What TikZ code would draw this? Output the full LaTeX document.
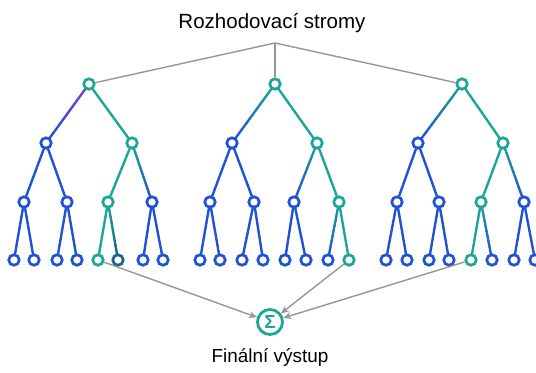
\documentclass[tikz,border=0pt]{standalone}
\usepackage{fontspec}
\setmainfont{Liberation Sans}
\usetikzlibrary{calc,arrows.meta,backgrounds}

\definecolor{nodeblue}{RGB}{32,82,212}
\definecolor{nodeteal}{RGB}{28,166,152}
\definecolor{edgepurple}{RGB}{112,72,200}
\definecolor{deepteal}{RGB}{26,98,140}
\definecolor{linkgray}{RGB}{150,150,150}

\tikzset{
  treenode/.style={circle, draw=#1, line width=2.7bp, fill=white,
    minimum size=10.5bp, inner sep=0pt},
  bnode/.style={treenode=nodeblue},
  tnode/.style={treenode=nodeteal},
  dnode/.style={treenode=deepteal},
  branch/.style={line width=2.4bp, line cap=round},
  link/.style={draw=linkgray, line width=1.4bp},
  toresult/.style={link, -{Stealth[length=8bp,width=7bp]}},
}

% branch whose colour fades from #3 (at #1) to #4 (at #2)
\newcommand{\fadebranch}[4]{%
  \foreach \k in {0,...,11}{%
    \pgfmathtruncatemacro{\pmix}{100-\k*100/11}%
    \draw[branch, color=#3!\pmix!#4]
      ($(#1)!\k/12!(#2)$) -- ($(#1)!\k/12+1/12!(#2)$);
  }}
\newcommand{\solidbranch}[3]{\draw[branch, color=#3] (#1) -- (#2);}

\begin{document}
\begin{tikzpicture}[x=1bp, y=-1bp]
\useasboundingbox (0,0) rectangle (536,372);

% ---------- titles ----------
\node (title) at (272,23) {\fontsize{20.6}{24}\selectfont Rozhodovací stromy};
\coordinate (hub) at (275,43);

% ---------- tree 1 ----------
\node[tnode] (1-r)  at (89,84) {};
\node[bnode] (1-a)  at (46,143) {};
\node[tnode] (1-b)  at (132,143) {};
\node[bnode] (1-aa) at (24,202) {};
\node[bnode] (1-ab) at (67,202) {};
\node[tnode] (1-ba) at (108,202) {};
\node[bnode] (1-bb) at (152,202) {};
\node[bnode] (1-l1) at (14,260) {};
\node[bnode] (1-l2) at (34,260) {};
\node[bnode] (1-l3) at (57,260) {};
\node[bnode] (1-l4) at (77,260) {};
\node[tnode] (1-l5) at (98,260) {};
\node[dnode] (1-l6) at (118,260) {};
\node[bnode] (1-l7) at (143,260) {};
\node[bnode] (1-l8) at (163,260) {};

% ---------- tree 2 ----------
\node[tnode] (2-r)  at (275,84) {};
\node[bnode] (2-a)  at (232,143) {};
\node[tnode] (2-b)  at (317,143) {};
\node[bnode] (2-aa) at (210,202) {};
\node[bnode] (2-ab) at (254,202) {};
\node[bnode] (2-ba) at (294,202) {};
\node[tnode] (2-bb) at (339,202) {};
\node[bnode] (2-l1) at (200,260) {};
\node[bnode] (2-l2) at (220,260) {};
\node[bnode] (2-l3) at (242,260) {};
\node[bnode] (2-l4) at (263,260) {};
\node[bnode] (2-l5) at (285,260) {};
\node[bnode] (2-l6) at (306,260) {};
\node[bnode] (2-l7) at (328,260) {};
\node[tnode] (2-l8) at (349,260) {};

% ---------- tree 3 ----------
\node[tnode] (3-r)  at (462,84) {};
\node[bnode] (3-a)  at (418,143) {};
\node[tnode] (3-b)  at (503,143) {};
\node[bnode] (3-aa) at (397,202) {};
\node[bnode] (3-ab) at (439,202) {};
\node[tnode] (3-ba) at (481,202) {};
\node[bnode] (3-bb) at (524,202) {};
\node[bnode] (3-l1) at (386,260) {};
\node[bnode] (3-l2) at (407,260) {};
\node[bnode] (3-l3) at (429,260) {};
\node[bnode] (3-l4) at (449,260) {};
\node[tnode] (3-l5) at (471,260) {};
\node[bnode] (3-l6) at (492,260) {};
\node[bnode] (3-l7) at (514,260) {};
\node[bnode] (3-l8) at (535,260) {};

% ---------- aggregation ----------
\node[circle, draw=nodeteal, line width=2.8bp, fill=white, minimum size=25bp,
      inner sep=0pt, text=nodeteal] (sum) at (270,322)
      {\fontsize{19}{20}\selectfont\bfseries Σ};
\node (result) at (270,357) {\fontsize{19}{22}\selectfont Finální výstup};

\begin{scope}[on background layer]
  % tree 1 branches
  \fadebranch{1-r}{1-a}{edgepurple}{nodeblue}
  \solidbranch{1-r}{1-b}{nodeteal}
  \solidbranch{1-a}{1-aa}{nodeblue}
  \solidbranch{1-a}{1-ab}{nodeblue}
  \solidbranch{1-b}{1-ba}{nodeteal}
  \fadebranch{1-b}{1-bb}{nodeteal}{nodeblue}
  \solidbranch{1-aa}{1-l1}{nodeblue}
  \solidbranch{1-aa}{1-l2}{nodeblue}
  \solidbranch{1-ab}{1-l3}{nodeblue}
  \solidbranch{1-ab}{1-l4}{nodeblue}
  \solidbranch{1-ba}{1-l5}{nodeteal}
  \fadebranch{1-ba}{1-l6}{nodeteal}{deepteal}
  \solidbranch{1-bb}{1-l7}{nodeblue}
  \solidbranch{1-bb}{1-l8}{nodeblue}
  % tree 2 branches
  \fadebranch{2-r}{2-a}{nodeteal}{nodeblue}
  \solidbranch{2-r}{2-b}{nodeteal}
  \solidbranch{2-a}{2-aa}{nodeblue}
  \solidbranch{2-a}{2-ab}{nodeblue}
  \fadebranch{2-b}{2-ba}{nodeteal}{nodeblue}
  \solidbranch{2-b}{2-bb}{nodeteal}
  \solidbranch{2-aa}{2-l1}{nodeblue}
  \solidbranch{2-aa}{2-l2}{nodeblue}
  \solidbranch{2-ab}{2-l3}{nodeblue}
  \solidbranch{2-ab}{2-l4}{nodeblue}
  \solidbranch{2-ba}{2-l5}{nodeblue}
  \solidbranch{2-ba}{2-l6}{nodeblue}
  \fadebranch{2-bb}{2-l7}{nodeteal}{nodeblue}
  \solidbranch{2-bb}{2-l8}{nodeteal}
  % tree 3 branches
  \fadebranch{3-r}{3-a}{nodeteal}{nodeblue}
  \solidbranch{3-r}{3-b}{nodeteal}
  \solidbranch{3-a}{3-aa}{nodeblue}
  \solidbranch{3-a}{3-ab}{nodeblue}
  \solidbranch{3-b}{3-ba}{nodeteal}
  \fadebranch{3-b}{3-bb}{nodeteal}{nodeblue}
  \solidbranch{3-aa}{3-l1}{nodeblue}
  \solidbranch{3-aa}{3-l2}{nodeblue}
  \solidbranch{3-ab}{3-l3}{nodeblue}
  \solidbranch{3-ab}{3-l4}{nodeblue}
  \solidbranch{3-ba}{3-l5}{nodeteal}
  \fadebranch{3-ba}{3-l6}{nodeteal}{nodeblue}
  \solidbranch{3-bb}{3-l7}{nodeblue}
  \solidbranch{3-bb}{3-l8}{nodeblue}
\end{scope}

% title connectors
\draw[link] (hub) -- (1-r);
\draw[link] (hub) -- (2-r);
\draw[link] (hub) -- (3-r);

% leaves feeding the final output
\draw[toresult] (1-l5) -- (sum);
\draw[toresult] (2-l8) -- (sum);
\draw[toresult] (3-l5) -- (sum);
\end{tikzpicture}
\end{document}
